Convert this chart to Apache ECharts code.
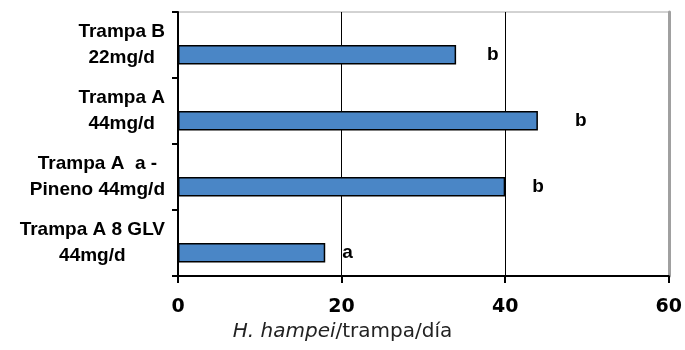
<!DOCTYPE html>
<html>
<head>
<meta charset="utf-8">
<script src="https://cdn.jsdelivr.net/npm/echarts@6/dist/echarts.min.js"></script>
<style>html,body{margin:0;padding:0;background:#fff}#c{width:685px;height:350px}</style>
</head>
<body>
<div id="c"></div>
<script>
// Categories listed bottom-to-top (ECharts category y axis grows upward)
const categories = ['Trampa A 8 GLV\n44mg/d', 'Trampa A  a -\nPineno 44mg/d', 'Trampa A\n44mg/d', 'Trampa B\n22mg/d'];
const values = [18, 40, 44, 34];
const letters = ['a', 'b', 'b', 'b'];
const xTicks = [0, 20, 40, 60];
const axisTitleItalic = 'H. hampei';
const axisTitleRest = '/trampa/día';

const letterDistance = [17, 27, 37, 31];

const chart = echarts.init(document.getElementById('c'), null, {renderer: 'canvas'});
const option = {
  animation: false,
  backgroundColor: '#ffffff',
  title: {
    text: '{i|' + axisTitleItalic + '}{n|' + axisTitleRest + '}',
    left: 'center', top: 322, padding: 0,
    textStyle: {
      fontWeight: 'normal',
      rich: {
        i: {fontFamily: 'DejaVu Sans', fontStyle: 'italic', fontWeight: 'normal', fontSize: 20, color: '#222'},
        n: {fontFamily: 'DejaVu Sans', fontWeight: 'normal', fontSize: 20, color: '#222'}
      }
    }
  },
  grid: {left: 178, right: 12, top: 12, bottom: 74, show: true, borderColor: '#a6a6a6', borderWidth: 1},
  xAxis: {
    type: 'value', min: xTicks[0], max: xTicks[xTicks.length - 1], interval: xTicks[1] - xTicks[0],
    axisLine: {show: true, onZero: false, lineStyle: {color: '#000', width: 2}},
    axisTick: {show: true, length: 7, lineStyle: {color: '#000', width: 2}},
    axisLabel: {color: '#000', fontFamily: 'DejaVu Sans', fontWeight: 'bold', fontSize: 19, margin: 22},
    splitLine: {show: true, showMinLine: false, showMaxLine: false, lineStyle: {color: '#000', width: 1}}
  },
  yAxis: [{
    type: 'category', data: categories,
    axisLine: {show: true, lineStyle: {color: '#000', width: 2}},
    axisTick: {show: true, length: 6, lineStyle: {color: '#000', width: 2}},
    axisLabel: {
      margin: 13,
      formatter: function (v) { return v.split('\n').map(function (s) { return '{c|' + s + '}'; }).join('\n'); },
      rich: {c: {align: 'center', fontFamily: 'Liberation Sans', fontWeight: 'bold', fontSize: 19, lineHeight: 26, color: '#000'}}
    },
    splitLine: {show: false}
  }, {
    type: 'value', position: 'right', min: 0, max: 1,
    axisLine: {show: true, lineStyle: {color: '#a0a0a0', width: 3}},
    axisTick: {show: false}, axisLabel: {show: false}, splitLine: {show: false}
  }],
  series: [{
    type: 'bar', yAxisIndex: 0,
    barWidth: 19.5, barGap: '0%',
    data: values.map(function () { return null; })
  }, {
    type: 'bar', yAxisIndex: 0,
    barWidth: 19.5, barGap: '0%',
    data: values.map(function (v, i) {
      return {value: v, label: {distance: letterDistance[i]}};
    }),
    itemStyle: {color: '#4a86c6', borderColor: '#000', borderWidth: 1.5},
    label: {
      show: true, position: 'right',
      formatter: function (p) { return letters[p.dataIndex]; },
      fontFamily: 'Liberation Sans', fontWeight: 'bold', fontSize: 19, color: '#000'
    },
    z: 3
  }]
};
chart.setOption(option);
</script>
</body>
</html>
